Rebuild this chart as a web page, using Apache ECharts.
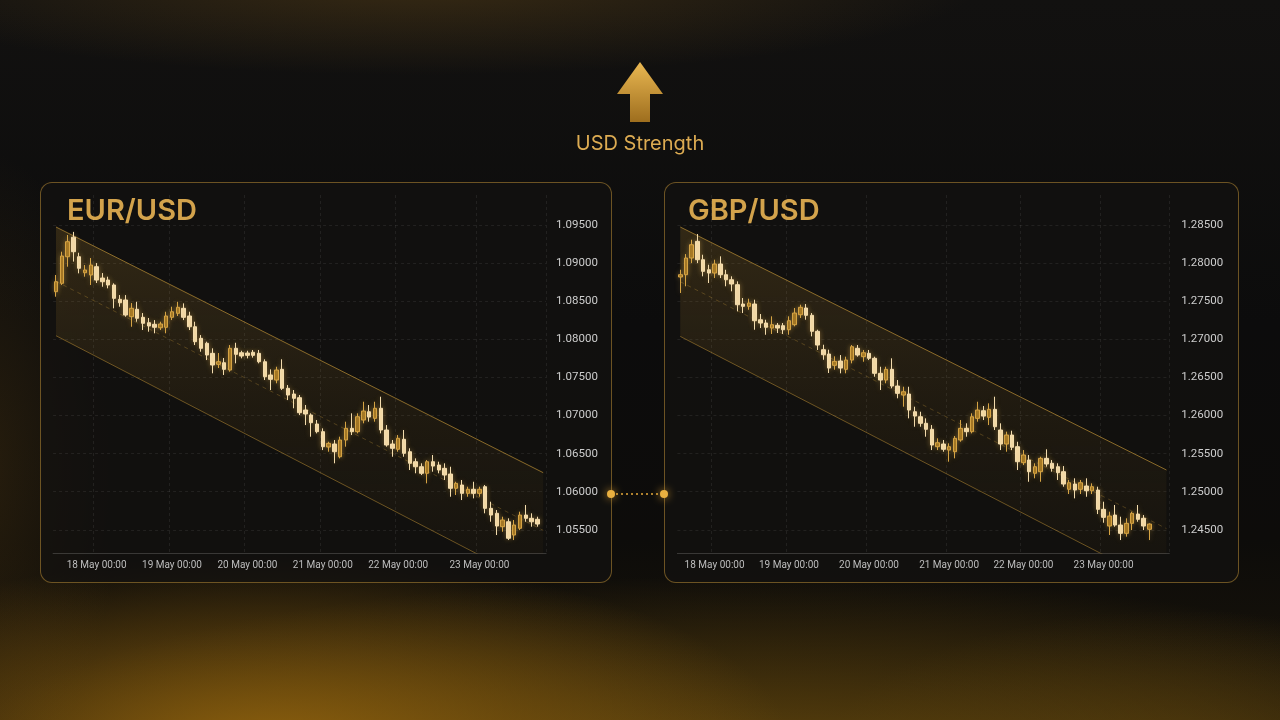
<!DOCTYPE html>
<html>
<head>
<meta charset="utf-8">
<script src="https://cdn.jsdelivr.net/npm/echarts@6/dist/echarts.min.js"></script>
<style>
html,body{margin:0;padding:0;width:1280px;height:720px;overflow:hidden;background:#0b0b0b;}
#bg{position:absolute;left:0;top:0;width:1280px;height:720px;
background:
 radial-gradient(ellipse 520px 190px at 270px 745px, rgba(150,102,14,0.9), rgba(150,102,14,0) 100%),
 radial-gradient(ellipse 820px 200px at 760px 775px, rgba(118,84,14,0.78), rgba(118,84,14,0) 100%),
 radial-gradient(ellipse 360px 150px at 1180px 760px, rgba(100,72,14,0.45), rgba(100,72,14,0) 100%),
 radial-gradient(ellipse 560px 90px at 420px -15px, rgba(100,72,24,0.45), rgba(100,72,24,0) 100%),
 radial-gradient(ellipse 140px 320px at -20px 470px, rgba(80,56,16,0.4), rgba(80,56,16,0) 100%),
 linear-gradient(#121110 0%, #0c0c0c 45%, #0d0c0a 75%, #1a1409 100%);}
.panel{position:absolute;top:182px;height:401px;border:1px solid rgba(165,126,48,0.62);border-radius:12px;background:rgba(19,18,16,0.74);box-sizing:border-box;}
#p1{left:40px;width:572px;}
#p2{left:664px;width:575px;}
#chart{position:absolute;left:0;top:0;width:1280px;height:720px;}
</style>
</head>
<body>
<div id="bg"></div>
<div class="panel" id="p1"></div>
<div class="panel" id="p2"></div>
<div id="chart"></div>
<script>
// ---------- DATA ----------
const dayLabels = ['18 May 00:00','19 May 00:00','20 May 00:00','21 May 00:00','22 May 00:00','23 May 00:00'];
const eurDayIdx = [7, 20, 33, 46, 59, 73];
const gbpDayIdx = [6, 19, 33, 47, 60, 74];
const eurSlots = 85;
const gbpSlots = 86;
const eurTicks = [1.055, 1.060, 1.065, 1.070, 1.075, 1.080, 1.085, 1.090, 1.095];
const gbpTicks = [1.245, 1.250, 1.255, 1.260, 1.265, 1.270, 1.275, 1.280, 1.285];

const eurOpen = [1.08625,1.08735,1.09084,1.09340,1.09084,1.08874,1.08844,1.08953,1.08804,1.08778,
1.08713,1.08525,1.08516,1.08297,1.08394,1.08289,1.08218,1.08197,1.08152,1.08158,
1.08289,1.08341,1.08407,1.08306,1.08165,1.08013,1.07948,1.07816,1.07672,1.07693,
1.07597,1.07882,1.07824,1.07820,1.07830,1.07816,1.07706,1.07532,1.07466,1.07606,
1.07357,1.07282,1.07234,1.07072,1.07007,1.06889,1.06788,1.06587,1.06626,1.06459,
1.06679,1.06832,1.06788,1.06941,1.07050,1.06963,1.07095,1.06810,1.06626,1.06557,
1.06688,1.06525,1.06394,1.06328,1.06242,1.06394,1.06350,1.06307,1.06232,1.06045,
1.06088,1.05979,1.06032,1.05979,1.06066,1.05782,1.05717,1.05541,1.05606,1.05432,
1.05520,1.05694,1.05651,1.05638];
const eurClose = [1.08756,1.09093,1.09281,1.09150,1.08932,1.08910,1.08975,1.08778,1.08756,1.08713,
1.08538,1.08480,1.08319,1.08407,1.08276,1.08210,1.08175,1.08158,1.08201,1.08306,
1.08362,1.08420,1.08289,1.08165,1.07969,1.07882,1.07794,1.07663,1.07706,1.07606,
1.07882,1.07803,1.07781,1.07790,1.07790,1.07706,1.07509,1.07475,1.07597,1.07357,
1.07269,1.07226,1.07037,1.07020,1.06906,1.06788,1.06591,1.06635,1.06525,1.06679,
1.06832,1.06788,1.06984,1.07059,1.06980,1.07095,1.06810,1.06613,1.06570,1.06701,
1.06504,1.06373,1.06328,1.06242,1.06394,1.06337,1.06285,1.06219,1.06045,1.06110,
1.05979,1.06032,1.05979,1.06032,1.05782,1.05694,1.05550,1.05629,1.05389,1.05563,
1.05694,1.05651,1.05606,1.05576];
const eurLow = [1.08559,1.08713,1.08953,1.09020,1.08866,1.08822,1.08713,1.08739,1.08690,1.08669,
1.08407,1.08428,1.08297,1.08165,1.08231,1.08122,1.08100,1.08079,1.08122,1.08079,
1.08253,1.08306,1.08253,1.08122,1.07925,1.07837,1.07728,1.07554,1.07623,1.07532,
1.07575,1.07685,1.07751,1.07750,1.07760,1.07685,1.07466,1.07335,1.07423,1.07335,
1.07203,1.07095,1.07007,1.06875,1.06722,1.06766,1.06547,1.06525,1.06373,1.06438,
1.06591,1.06744,1.06766,1.06898,1.06919,1.06919,1.06766,1.06591,1.06459,1.06525,
1.06459,1.06285,1.06242,1.06219,1.06110,1.06263,1.06242,1.06154,1.05934,1.05957,
1.05891,1.05934,1.05913,1.05934,1.05717,1.05606,1.05432,1.05475,1.05366,1.05366,
1.05497,1.05606,1.05541,1.05541];
const eurHigh = [1.08844,1.09150,1.09369,1.09410,1.09136,1.08975,1.09067,1.09001,1.08870,1.08822,
1.08735,1.08581,1.08581,1.08476,1.08493,1.08345,1.08280,1.08253,1.08231,1.08362,
1.08428,1.08493,1.08472,1.08362,1.08231,1.08056,1.07969,1.07882,1.07820,1.07755,
1.07925,1.07955,1.07850,1.07850,1.07860,1.07860,1.07738,1.07606,1.07640,1.07738,
1.07400,1.07335,1.07269,1.07138,1.07029,1.06941,1.06832,1.06656,1.06679,1.06722,
1.06919,1.07029,1.07029,1.07181,1.07138,1.07181,1.07247,1.06875,1.06679,1.06744,
1.06810,1.06570,1.06438,1.06373,1.06416,1.06482,1.06394,1.06373,1.06328,1.06131,
1.06154,1.06066,1.06131,1.06066,1.06088,1.05869,1.05760,1.05672,1.05651,1.05629,
1.05738,1.05826,1.05717,1.05672];

const gbpOpen = [1.27818,1.27848,1.28067,1.28286,1.28045,1.27913,1.27870,1.27988,1.27848,1.27782,
1.27717,1.27463,1.27433,1.27463,1.27257,1.27214,1.27148,1.27184,1.27179,1.27126,
1.27192,1.27323,1.27411,1.27315,1.27105,1.26864,1.26807,1.26659,1.26715,1.26606,
1.26728,1.26882,1.26772,1.26816,1.26751,1.26554,1.26466,1.26606,1.26387,1.26269,
1.26282,1.26050,1.25984,1.25898,1.25819,1.25591,1.25626,1.25547,1.25525,1.25679,
1.25832,1.25788,1.25963,1.26063,1.25976,1.26081,1.25810,1.25626,1.25744,1.25591,
1.25381,1.25416,1.25242,1.25263,1.25438,1.25373,1.25328,1.25263,1.25032,1.25101,
1.25032,1.25075,1.25013,1.25022,1.24769,1.24550,1.24694,1.24563,1.24454,1.24585,
1.24707,1.24651,1.24507];
const gbpClose = [1.27848,1.28067,1.28241,1.28045,1.27892,1.27870,1.27988,1.27848,1.27782,1.27726,
1.27454,1.27433,1.27476,1.27244,1.27214,1.27158,1.27192,1.27148,1.27126,1.27244,
1.27345,1.27420,1.27315,1.27105,1.26925,1.26798,1.26623,1.26711,1.26623,1.26728,
1.26903,1.26794,1.26824,1.26751,1.26554,1.26466,1.26606,1.26387,1.26291,1.26312,
1.26072,1.25993,1.25898,1.25819,1.25613,1.25643,1.25557,1.25591,1.25701,1.25832,
1.25788,1.25984,1.26072,1.25993,1.26081,1.25853,1.25626,1.25744,1.25583,1.25394,
1.25482,1.25263,1.25328,1.25438,1.25364,1.25307,1.25250,1.25101,1.25118,1.25022,
1.25118,1.25013,1.25066,1.24769,1.24664,1.24681,1.24563,1.24454,1.24585,1.24717,
1.24638,1.24550,1.24576];
const gbpLow = [1.27608,1.27696,1.28001,1.28001,1.27827,1.27739,1.27804,1.27804,1.27696,1.27630,
1.27367,1.27345,1.27388,1.27126,1.27148,1.27060,1.27070,1.27083,1.27070,1.27060,
1.27171,1.27280,1.27257,1.27039,1.26860,1.26732,1.26558,1.26601,1.26554,1.26554,
1.26685,1.26772,1.26706,1.26728,1.26509,1.26335,1.26423,1.26357,1.26226,1.26116,
1.25963,1.25853,1.25853,1.25722,1.25547,1.25547,1.25525,1.25394,1.25438,1.25656,
1.25722,1.25766,1.25919,1.25941,1.25875,1.25810,1.25547,1.25525,1.25547,1.25285,
1.25350,1.25131,1.25176,1.25131,1.25328,1.25263,1.25154,1.25066,1.24970,1.24913,
1.24970,1.24934,1.24970,1.24707,1.24593,1.24432,1.24541,1.24366,1.24410,1.24497,
1.24606,1.24497,1.24366];
const gbpHigh = [1.27913,1.28119,1.28307,1.28382,1.28110,1.27979,1.28045,1.28089,1.27913,1.27827,
1.27761,1.27542,1.27533,1.27520,1.27332,1.27257,1.27302,1.27214,1.27214,1.27302,
1.27411,1.27454,1.27463,1.27345,1.27126,1.26929,1.26864,1.26777,1.26794,1.26772,
1.26925,1.26925,1.26860,1.26860,1.26772,1.26640,1.26640,1.26751,1.26466,1.26378,
1.26378,1.26116,1.26050,1.25963,1.25875,1.25701,1.25679,1.25635,1.25731,1.25941,
1.25898,1.26029,1.26181,1.26125,1.26160,1.26247,1.25898,1.25788,1.25801,1.25656,
1.25547,1.25482,1.25373,1.25459,1.25557,1.25416,1.25373,1.25337,1.25154,1.25176,
1.25154,1.25176,1.25110,1.25066,1.24869,1.24738,1.24826,1.24672,1.24651,1.24738,
1.24826,1.24694,1.24585];

// descending channel (x = slot index)
const eurChannelX = [0, 84];
const eurUpper = [1.09474, 1.06250];
const eurLower = [1.08047, 1.04735];
const eurMid   = [1.08761, 1.05493];
const gbpChannelX = [0, 85];
const gbpUpper = [1.28474, 1.25285];
const gbpLower = [1.27038, 1.23746];
const gbpMid   = [1.27756, 1.24516];

// ---------- BUILD ----------
const GOLD = '#d6a444';
const CREAM = '#f3dcae';
function cats(n, idx){ const a=[]; for(let i=0;i<n;i++){ const k=idx.indexOf(i); a.push(k>=0?dayLabels[k]:('t'+i)); } return a; }
function ohlc(o,c,l,h){ return o.map((v,i)=>[v,c[i],l[i],h[i]]); }
function pts(xs, ys){ return xs.map((x,i)=>[x, ys[i]]); }
function diff(xs, a, b){ return xs.map((x,i)=>[x, a[i]-b[i]]); }

const eurRange = {min:1.05196, max:1.09894};
const gbpRange = {min:1.24196, max:1.28894};

function xAxisCfg(g, n, idx){
  const show = (i)=>idx.indexOf(i)>=0;
  return {gridIndex:g, type:'category', data:cats(n, idx), boundaryGap:true,
    axisLine:{show:true, lineStyle:{color:'rgba(255,255,255,0.17)', width:1}},
    axisTick:{show:false},
    axisLabel:{interval:show, color:'#bdbdbd', fontSize:10, fontFamily:'Roboto', margin:7},
    splitLine:{show:true, interval:show, lineStyle:{color:'rgba(255,255,255,0.075)', type:[3,3]}}};
}
function yAxisCfg(g, r, ticks, margin){
  return {gridIndex:g, type:'value', position:'right', min:r.min, max:r.max, scale:true,
    axisLine:{show:false}, axisTick:{show:false, customValues:ticks},
    axisLabel:{customValues:ticks, formatter:(v)=>v.toFixed(5), color:'#cdcdcd', fontSize:11.5, fontFamily:'Roboto', margin:margin},
    splitLine:{show:true, lineStyle:{color:'rgba(255,255,255,0.075)', type:[3,3]}}};
}
function bandSeries(g, name, xs, up, lo, mid){
  const ln = {xAxisIndex:g, yAxisIndex:g, type:'line', symbol:'none', silent:true, animation:false};
  return [
    Object.assign({}, ln, {name:name+'base', data:pts(xs, lo), stack:name, lineStyle:{opacity:0}, z:1}),
    Object.assign({}, ln, {name:name+'band', data:diff(xs, up, lo), stack:name, lineStyle:{opacity:0}, z:1,
      areaStyle:{color:new echarts.graphic.LinearGradient(0,0,0,1,[
        {offset:0, color:'rgba(214,162,55,0.24)'},
        {offset:0.5, color:'rgba(194,142,45,0.12)'},
        {offset:1, color:'rgba(170,120,35,0.04)'}])}}),
    Object.assign({}, ln, {name:name+'up', data:pts(xs, up), lineStyle:{color:'rgba(214,164,60,0.6)', width:1}, z:2}),
    Object.assign({}, ln, {name:name+'lo', data:pts(xs, lo), lineStyle:{color:'rgba(214,164,60,0.45)', width:1}, z:2}),
    Object.assign({}, ln, {name:name+'mid', data:pts(xs, mid), lineStyle:{color:'rgba(214,164,60,0.28)', width:1, type:[4,4]}, z:2})
  ];
}
function candleSeries(g, data){
  return {xAxisIndex:g, yAxisIndex:g, type:'candlestick', data:data, barWidth:4, animation:false, z:5,
    itemStyle:{color:'#9c7020', color0:CREAM, borderColor:GOLD, borderColor0:CREAM, borderWidth:1,
      shadowBlur:5, shadowColor:'rgba(240,190,90,0.35)'}};
}

const chart = echarts.init(document.getElementById('chart'), null, {renderer:'canvas'});
const option = {
  backgroundColor:'transparent',
  animation:false,
  grid:[
    {left:53.1, top:195, width:eurSlots*5.8, height:358, outerBoundsMode:'none', containLabel:false},
    {left:677.4, top:195, width:gbpSlots*5.72, height:358, outerBoundsMode:'none', containLabel:false}
  ],
  xAxis:[xAxisCfg(0, eurSlots, eurDayIdx), xAxisCfg(1, gbpSlots, gbpDayIdx)],
  yAxis:[yAxisCfg(0, eurRange, eurTicks, 10), yAxisCfg(1, gbpRange, gbpTicks, 12)],
  series:[].concat(
    bandSeries(0, 'eur', eurChannelX, eurUpper, eurLower, eurMid),
    [candleSeries(0, ohlc(eurOpen, eurClose, eurLow, eurHigh))],
    bandSeries(1, 'gbp', gbpChannelX, gbpUpper, gbpLower, gbpMid),
    [candleSeries(1, ohlc(gbpOpen, gbpClose, gbpLow, gbpHigh))]
  ),
  graphic:[
    {type:'polygon', shape:{points:[[640,62],[663,94],[650,94],[650,122],[630,122],[630,94],[617,94]]},
      style:{fill:new echarts.graphic.LinearGradient(0,0,0,1,[{offset:0,color:'#eab852'},{offset:1,color:'#9e6e1e'}])}},
    {type:'text', x:640, y:144, style:{text:'USD Strength', fill:'#dcab52', font:'400 20px Inter', align:'center', verticalAlign:'middle'}},
    {type:'text', x:67, y:211, style:{text:'EUR/USD', fill:'#d3a34c', font:'600 29px Inter', align:'left', verticalAlign:'middle'}},
    {type:'text', x:688, y:211, style:{text:'GBP/USD', fill:'#d3a34c', font:'600 29px Inter', align:'left', verticalAlign:'middle'}},
    {type:'line', shape:{x1:616, y1:494, x2:660, y2:494}, style:{stroke:'#e3a83a', lineWidth:1.6, lineDash:[2,3]}},
    {type:'circle', shape:{cx:611, cy:494, r:4}, style:{fill:'#eab040', shadowBlur:8, shadowColor:'rgba(240,170,50,0.8)'}},
    {type:'circle', shape:{cx:664, cy:494, r:4}, style:{fill:'#eab040', shadowBlur:8, shadowColor:'rgba(240,170,50,0.8)'}}
  ]
};
chart.setOption(option);
</script>
</body>
</html>
